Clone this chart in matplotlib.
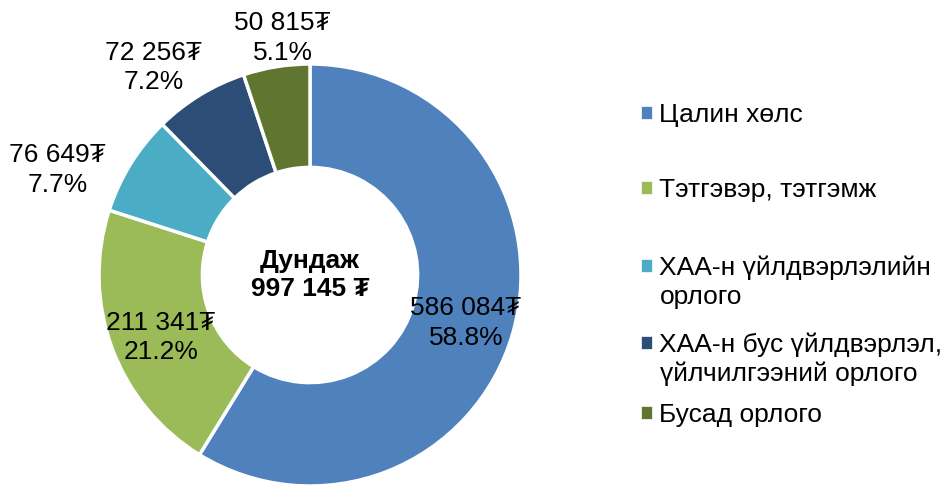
import numpy as np
import matplotlib.pyplot as plt

plt.rcParams['font.family'] = ['Liberation Sans', 'DejaVu Sans']

categories = ['Цалин хөлс', 'Тэтгэвэр, тэтгэмж', 'ХАА-н үйлдвэрлэлийн\nорлого',
              'ХАА-н бус үйлдвэрлэл,\nүйлчилгээний орлого', 'Бусад орлого']
values = [586084, 211341, 76649, 72256, 50815]
value_labels = ['586 084₮', '211 341₮', '76 649₮', '72 256₮', '50 815₮']
pct_labels = ['58.8%', '21.2%', '7.7%', '7.2%', '5.1%']
total_label = 'Дундаж\n997 145 ₮'

colors = ['#4F81BD', '#9BBB59', '#4BACC6', '#2C4D75', '#5F7530']
# radial distance and angle shift for each data label
label_r = [0.773, 0.765, 1.296, 1.232, 1.13]
label_shift = [-1.3, 2.5, 9.1, 5.6, -2.6]
legend_y = [115, 190, 268, 345, 415]

W, H = 946, 488
fig = plt.figure(figsize=(W / 100, H / 100), dpi=100)
cx, cy, R = 310, 275, 211
ax = fig.add_axes([(cx - R) / W, (H - cy - R) / H, 2 * R / W, 2 * R / H])

wedges, _ = ax.pie(values, colors=colors, startangle=90, counterclock=False,
                   radius=1, wedgeprops=dict(width=0.49, edgecolor='white', linewidth=2.5))
ax.set_xlim(-1, 1)
ax.set_ylim(-1, 1)
ax.set_aspect('equal')
ax.axis('off')

fs = 19
for w, v, p, r, s in zip(wedges, value_labels, pct_labels, label_r, label_shift):
    ang = np.deg2rad((w.theta1 + w.theta2) / 2 + s)
    ax.text(r * np.cos(ang), r * np.sin(ang), v + '\n' + p, ha='center', va='center',
            fontsize=fs, linespacing=1.3, clip_on=False)

ax.text(0, 0.0, total_label, ha='center', va='center', fontsize=fs,
        fontweight='bold', linespacing=1.25)

for w, name, y in zip(wedges, categories, legend_y):
    lines = name.split('\n')
    h = plt.Rectangle((0, 0), 1, 1, facecolor=w.get_facecolor(), edgecolor='white', linewidth=0.5)
    fig.legend(handles=[h], labels=[lines[0]], loc='center left',
               bbox_to_anchor=(641 / W, 1 - y / H), frameon=False, fontsize=fs,
               handlelength=0.4, handleheight=0.4, handletextpad=0.3,
               borderpad=0, borderaxespad=0)
    for i, extra in enumerate(lines[1:], start=1):
        fig.text(660 / W, 1 - (y + 29 * i) / H, extra, ha='left', va='center', fontsize=fs)

fig.savefig('out.png', dpi=100)
